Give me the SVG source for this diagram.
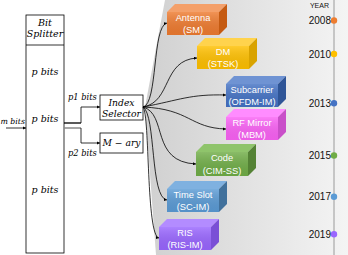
<svg xmlns="http://www.w3.org/2000/svg" width="348" height="255" viewBox="0 0 348 255">
<defs>
<linearGradient id="bg" x1="145" y1="0" x2="348" y2="0" gradientUnits="userSpaceOnUse">
<stop offset="0" stop-color="#d0d0d0"/><stop offset="1" stop-color="#f4f4f4"/>
</linearGradient>
<linearGradient id="shine" x1="0" y1="0" x2="0" y2="1">
<stop offset="0" stop-color="#fff" stop-opacity="0.18"/><stop offset="1" stop-color="#000" stop-opacity="0.06"/>
</linearGradient>
<marker id="ah" viewBox="0 0 6 6" refX="6" refY="3" markerWidth="4" markerHeight="4" orient="auto">
<path d="M0,0 L6,3 L0,6 z" fill="#000"/>
</marker>
</defs>
<style>
.blk{fill:#fff;stroke:#000;stroke-width:0.8}
.it{font-family:"DejaVu Serif",serif;font-style:italic;fill:#000}
.lbl{font-family:"Liberation Sans",Arial,sans-serif;font-size:9.3px;fill:#fff;text-anchor:middle}
.yr{font-family:"Liberation Sans",Arial,sans-serif;font-size:10px;fill:#111;text-anchor:end}
.con{fill:none;stroke:#000;stroke-width:0.8;marker-end:url(#ah)}
</style>
<rect width="348" height="255" fill="#fff"/>
<polygon points="165,0 145,107 156,255 348,255 348,0" fill="url(#bg)"/>

<g id="timeline">
<line x1="334" y1="0" x2="334" y2="255" stroke="#9a9a9a" stroke-width="1"/>
<text x="329" y="8" font-family="Liberation Sans,Arial,sans-serif" font-size="7" fill="#111" text-anchor="end">YEAR</text>
<circle cx="334" cy="20.5" r="3.2" fill="#ED7D31"/><text class="yr" x="331" y="24">2008</text>
<circle cx="334" cy="54" r="3.2" fill="#FFC000"/><text class="yr" x="331" y="57.5">2010</text>
<circle cx="334" cy="103.3" r="3.2" fill="#4472C4"/><text class="yr" x="331" y="106.8">2013</text>
<circle cx="334" cy="155.5" r="3.2" fill="#70AD47"/><text class="yr" x="331" y="159">2015</text>
<circle cx="334" cy="196.7" r="3.2" fill="#5B9BD5"/><text class="yr" x="331" y="200.2">2017</text>
<circle cx="334" cy="234.3" r="3.2" fill="#9966FF"/><text class="yr" x="331" y="237.8">2019</text>
</g>

<g id="bit-splitter">
<rect class="blk" x="26" y="15" width="38" height="238"/>
<line x1="26" y1="45" x2="64" y2="45" stroke="#000" stroke-width="0.8"/>
<text class="it" x="45" y="26" font-size="9.5" text-anchor="middle">Bit</text>
<text class="it" x="45" y="37" font-size="9.5" text-anchor="middle">Splitter</text>
<text class="it" x="45" y="75" font-size="9.5" text-anchor="middle">p bits</text>
<text class="it" x="45" y="122" font-size="9.5" text-anchor="middle">p bits</text>
<text class="it" x="45" y="193" font-size="9.5" text-anchor="middle">p bits</text>
</g>
<text class="it" x="0.5" y="124" font-size="7.8">m bits</text>
<text class="it" x="68" y="100" font-size="8.3">p1 bits</text>
<text class="it" x="68" y="156" font-size="8.3">p2 bits</text>

<g id="index-selector">
<rect class="blk" x="100" y="95" width="43" height="25"/>
<text class="it" x="121.5" y="106" font-size="9.2" text-anchor="middle">Index</text>
<text class="it" x="121.5" y="117" font-size="9.2" text-anchor="middle">Selector</text>
</g>
<g id="m-ary">
<rect class="blk" x="100" y="133" width="43" height="20"/>
<text class="it" x="121.5" y="146" font-size="9.2" text-anchor="middle">M − ary</text>
</g>

<g id="antenna">
<polygon points="167,12 175,4 227,4 219,12" fill="#F4A06A"/>
<polygon points="219,12 227,4 227,27 219,35" fill="#C55A11"/>
<rect x="167" y="12" width="52" height="23" fill="#EE7B30"/><rect x="167" y="12" width="52" height="23" fill="url(#shine)"/>
<text class="lbl" x="193" y="20.5">Antenna</text><text class="lbl" x="193" y="33">(SM)</text>
</g>
<g id="dm">
<polygon points="197,46 205,38 257,38 249,46" fill="#FFD34D"/>
<polygon points="249,46 257,38 257,61 249,69" fill="#D9A300"/>
<rect x="197" y="46" width="52" height="23" fill="#FFC000"/><rect x="197" y="46" width="52" height="23" fill="url(#shine)"/>
<text class="lbl" x="223" y="54.5">DM</text><text class="lbl" x="223" y="67">(STSK)</text>
</g>
<g id="subcarrier">
<polygon points="226,84 234,76 286,76 278,84" fill="#6F93D3"/>
<polygon points="278,84 286,76 286,99 278,107" fill="#2F5597"/>
<rect x="226" y="84" width="52" height="23" fill="#4472C4"/><rect x="226" y="84" width="52" height="23" fill="url(#shine)"/>
<text class="lbl" x="252" y="92.5">Subcarrier</text><text class="lbl" x="252" y="105">(OFDM-IM)</text>
</g>
<g id="rf-mirror">
<polygon points="226,117 234,109 286,109 278,117" fill="#FF8CFF"/>
<polygon points="278,117 286,109 286,132 278,140" fill="#C94FC9"/>
<rect x="226" y="117" width="52" height="23" fill="#FA62F5"/><rect x="226" y="117" width="52" height="23" fill="url(#shine)"/>
<text class="lbl" x="252" y="125.5">RF Mirror</text><text class="lbl" x="252" y="138">(MBM)</text>
</g>
<g id="code">
<polygon points="196,152 204,144 256,144 248,152" fill="#8FC46B"/>
<polygon points="248,152 256,144 256,168 248,176" fill="#548235"/>
<rect x="196" y="152" width="52" height="24" fill="#70AD47"/><rect x="196" y="152" width="52" height="24" fill="url(#shine)"/>
<text class="lbl" x="222" y="160.5">Code</text><text class="lbl" x="222" y="173.5">(CIM-SS)</text>
</g>
<g id="time-slot">
<polygon points="167,189 175,181 227,181 219,189" fill="#7FB1E0"/>
<polygon points="219,189 227,181 227,204 219,212" fill="#41719C"/>
<rect x="167" y="189" width="52" height="23" fill="#5B9BD5"/><rect x="167" y="189" width="52" height="23" fill="url(#shine)"/>
<text class="lbl" x="193" y="197.5">Time Slot</text><text class="lbl" x="193" y="210">(SC-IM)</text>
</g>
<g id="ris">
<polygon points="159,227 167,219 219,219 211,227" fill="#B38CFF"/>
<polygon points="211,227 219,219 219,242 211,250" fill="#7A4FD6"/>
<rect x="159" y="227" width="52" height="23" fill="#9966FF"/><rect x="159" y="227" width="52" height="23" fill="url(#shine)"/>
<text class="lbl" x="185" y="235.5">RIS</text><text class="lbl" x="185" y="248">(RIS-IM)</text>
</g>

<g id="connectors">
<path class="con" d="M6,128 H26"/>
<path d="M64,123 H81" fill="none" stroke="#000" stroke-width="1.3"/>
<path class="con" d="M81,123 V107 H100"/>
<path d="M64,128 H81" fill="none" stroke="#8a8a8a" stroke-width="1.5"/>
<path class="con" d="M81,128 V143 H100"/>
<path class="con" d="M143,107 C158,104 152,26 167,23"/>
<path class="con" d="M143,107 C172,102 162,60 197,58"/>
<path class="con" d="M143,107 C180,100 190,94 226,95"/>
<path class="con" d="M143,107 C190,109 190,128 226,129"/>
<path class="con" d="M143,107 C168,114 150,162 196,164"/>
<path class="con" d="M143,107 C156,115 150,198 167,200"/>
<path class="con" d="M143,107 C150,115 146,236 159,238"/>
</g>
</svg>
